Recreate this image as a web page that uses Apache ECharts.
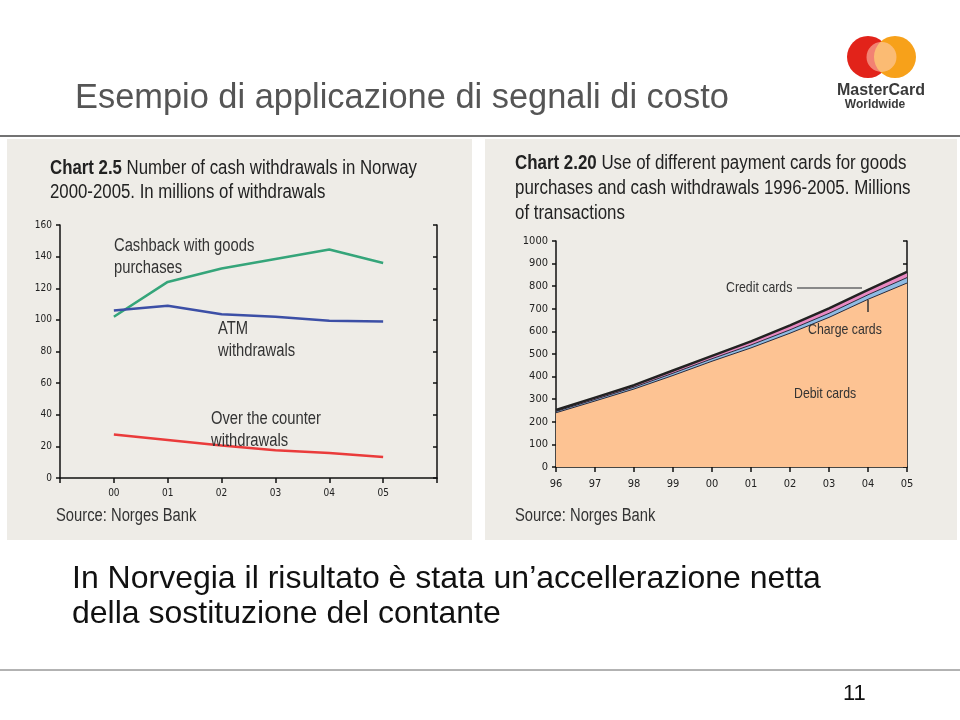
<!DOCTYPE html>
<html>
<head>
<meta charset="utf-8">
<script src="https://cdn.jsdelivr.net/npm/echarts@6/dist/echarts.min.js"></script>
<style>
html,body{margin:0;padding:0;background:#fff;}
#c{width:960px;height:720px;}
</style>
</head>
<body>
<div id="c"></div>
<script>
// Left chart: cash withdrawals in Norway (millions)
var leftCats = ['', '00', '01', '02', '03', '04', '05', ''];
var cashback = [null, 102, 124, 132.5, 138.5, 144.5, 136, null];
var atm      = [null, 106, 109, 103.5, 102, 99.5, 99, null];
var counter  = [null, 27.5, 24, 20.5, 17.5, 15.8, 13.3, null];

// Right chart: payment cards (millions of transactions)
var rightCats = ['96', '97', '98', '99', '00', '01', '02', '03', '04', '05'];
var debit  = [240, 292, 345, 405, 468, 527, 592, 662, 742, 814];
var charge = [6, 7, 8, 10, 11, 13, 15, 18, 20, 24];
var credit = [6, 8, 9, 12, 13, 16, 20, 22, 22, 25];

var COND = '"DejaVu Sans Condensed", "Liberation Sans", sans-serif';
var SANS = '"Liberation Sans", Arial, sans-serif';
var NX = 0.82; // horizontal squeeze to mimic a narrow face
var chart = echarts.init(document.getElementById('c'), null, {renderer: 'canvas'});

function txt(x, y, s, size, color, weight) {
  return {type: 'text', x: x, y: y, z: 100, scaleX: NX,
    style: {text: s, font: (weight || '') + ' ' + size + 'px ' + SANS, fill: color || '#222', lineHeight: Math.round(size * 1.2)}};
}

var graphic = [
  // panels
  {type: 'rect', shape: {x: 7, y: 139, width: 465, height: 401}, style: {fill: '#eeece7'}, z: -10},
  {type: 'rect', shape: {x: 485, y: 139, width: 472, height: 401}, style: {fill: '#eeece7'}, z: -10},
  // header / footer lines
  {type: 'line', shape: {x1: 0, y1: 136, x2: 960, y2: 136}, style: {stroke: '#444', lineWidth: 1.5}},
  {type: 'line', shape: {x1: 0, y1: 670, x2: 960, y2: 670}, style: {stroke: '#666', lineWidth: 1}},
  // slide title
  {type: 'text', x: 75, y: 82, style: {text: 'Esempio di applicazione di segnali di costo', font: '34.4px ' + SANS, fill: '#555'}},
  // bottom text
  {type: 'text', x: 72, y: 562, style: {text: 'In Norvegia il risultato è stata un\u2019accellerazione netta\ndella sostituzione del contante', font: '32px ' + SANS, fill: '#111', lineHeight: 35}},
  // page number
  {type: 'text', x: 843, y: 683, style: {text: '11', font: '22px ' + SANS, fill: '#111'}},
  // logo
  {type: 'circle', shape: {cx: 868, cy: 57, r: 21}, style: {fill: '#e2231a'}},
  {type: 'circle', shape: {cx: 895, cy: 57, r: 21}, style: {fill: '#f7a11a'}},
  {type: 'circle', shape: {cx: 881.5, cy: 57, r: 15}, style: {fill: 'rgba(255,210,190,0.55)'}},
  {type: 'text', x: 881, y: 83, style: {text: 'MasterCard', font: 'bold 16px ' + SANS, fill: '#3a3a3a', align: 'center'}},
  {type: 'text', x: 875, y: 99, style: {text: 'Worldwide', font: 'bold 12px ' + SANS, fill: '#3a3a3a', align: 'center'}},
  // left chart title
  {type: 'text', x: 50, y: 156, z: 100, scaleX: 0.84, style: {
    text: '{b|Chart 2.5} Number of cash withdrawals in Norway\n2000-2005. In millions of withdrawals',
    font: '20px ' + SANS, fill: '#222', lineHeight: 24,
    rich: {b: {font: 'bold 20px ' + SANS, fill: '#222'}}}},
  txt(56, 505, 'Source: Norges Bank', 18, '#333'),
  txt(114, 235, 'Cashback with goods\npurchases', 18, '#333'),
  txt(218, 318, 'ATM\nwithdrawals', 18, '#333'),
  txt(211, 408, 'Over the counter\nwithdrawals', 18, '#333'),
  // right chart title
  {type: 'text', x: 515, y: 151, z: 100, scaleX: 0.845, style: {
    text: '{b|Chart 2.20} Use of different payment cards for goods\npurchases and cash withdrawals 1996-2005. Millions\nof transactions',
    font: '20px ' + SANS, fill: '#222', lineHeight: 25,
    rich: {b: {font: 'bold 20px ' + SANS, fill: '#222'}}}},
  txt(515, 505, 'Source: Norges Bank', 18, '#333'),
  txt(726, 279, 'Credit cards', 15, '#333'),
  {type: 'line', z: 100, shape: {x1: 797, y1: 288, x2: 862, y2: 288}, style: {stroke: '#888', lineWidth: 2}},
  txt(808, 321, 'Charge cards', 15, '#333'),
  {type: 'line', z: 100, shape: {x1: 868, y1: 300, x2: 868, y2: 312}, style: {stroke: '#333', lineWidth: 1.5}},
  txt(794, 385, 'Debit cards', 15, '#333')
];

var axisCommon = {
  axisLine: {show: true, lineStyle: {color: '#111', width: 1.5}},
  axisTick: {show: true, length: 4, lineStyle: {color: '#111', width: 1.5}},
  splitLine: {show: false}
};
var plain = function (v) { return String(v); };

var option = {
  animation: false,
  backgroundColor: '#ffffff',
  graphic: graphic,
  grid: [
    {left: 60, top: 225, width: 377, height: 253},
    {left: 556, top: 241, width: 351, height: 226}
  ],
  xAxis: [
    Object.assign({}, axisCommon, {type: 'category', gridIndex: 0, data: leftCats, boundaryGap: false,
      axisTick: {show: true, length: 5, lineStyle: {color: '#111', width: 1.5}},
      axisLabel: {color: '#222', fontSize: 10, fontFamily: COND, margin: 10, interval: 0}}),
    Object.assign({}, axisCommon, {type: 'category', gridIndex: 1, data: rightCats, boundaryGap: false,
      axisTick: {show: true, length: 5, lineStyle: {color: '#111', width: 1.5}},
      axisLabel: {color: '#222', fontSize: 11, fontFamily: COND, margin: 12, interval: 0}})
  ],
  yAxis: [
    Object.assign({}, axisCommon, {type: 'value', gridIndex: 0, min: 0, max: 160, interval: 20, position: 'left',
      axisLabel: {color: '#222', fontSize: 10, fontFamily: COND, margin: 8, formatter: plain}}),
    Object.assign({}, axisCommon, {type: 'value', gridIndex: 0, min: 0, max: 160, interval: 20, position: 'right',
      axisTick: {show: true, length: 4, inside: true, lineStyle: {color: '#111', width: 1.5}},
      axisLabel: {show: false}}),
    Object.assign({}, axisCommon, {type: 'value', gridIndex: 1, min: 0, max: 1000, interval: 100, position: 'left',
      axisLabel: {color: '#222', fontSize: 11, fontFamily: COND, margin: 8, formatter: plain}}),
    Object.assign({}, axisCommon, {type: 'value', gridIndex: 1, min: 0, max: 1000, interval: 100, position: 'right',
      axisTick: {show: true, length: 4, inside: true, lineStyle: {color: '#111', width: 1.5}},
      axisLabel: {show: false}})
  ],
  series: [
    {name: 'Cashback with goods purchases', type: 'line', xAxisIndex: 0, yAxisIndex: 0, data: cashback,
      showSymbol: false, lineStyle: {color: '#35a57a', width: 2.5}},
    {name: 'ATM withdrawals', type: 'line', xAxisIndex: 0, yAxisIndex: 0, data: atm,
      showSymbol: false, lineStyle: {color: '#3c4fa6', width: 2.5}},
    {name: 'Over the counter withdrawals', type: 'line', xAxisIndex: 0, yAxisIndex: 0, data: counter,
      showSymbol: false, lineStyle: {color: '#ea3b3b', width: 2.5}},
    {name: 'Debit cards', type: 'line', xAxisIndex: 1, yAxisIndex: 2, stack: 'cards', data: debit,
      showSymbol: false, lineStyle: {color: '#2a2a3a', width: 1}, areaStyle: {color: '#fdc393', opacity: 1}},
    {name: 'Charge cards', type: 'line', xAxisIndex: 1, yAxisIndex: 2, stack: 'cards', data: charge,
      showSymbol: false, lineStyle: {color: '#2a2a3a', width: 1}, areaStyle: {color: '#8ebbe3', opacity: 1}},
    {name: 'Credit cards', type: 'line', xAxisIndex: 1, yAxisIndex: 2, stack: 'cards', data: credit,
      showSymbol: false, lineStyle: {color: '#222', width: 2.5}, areaStyle: {color: '#e889c2', opacity: 1}}
  ]
};
chart.setOption(option);
</script>
</body>
</html>
